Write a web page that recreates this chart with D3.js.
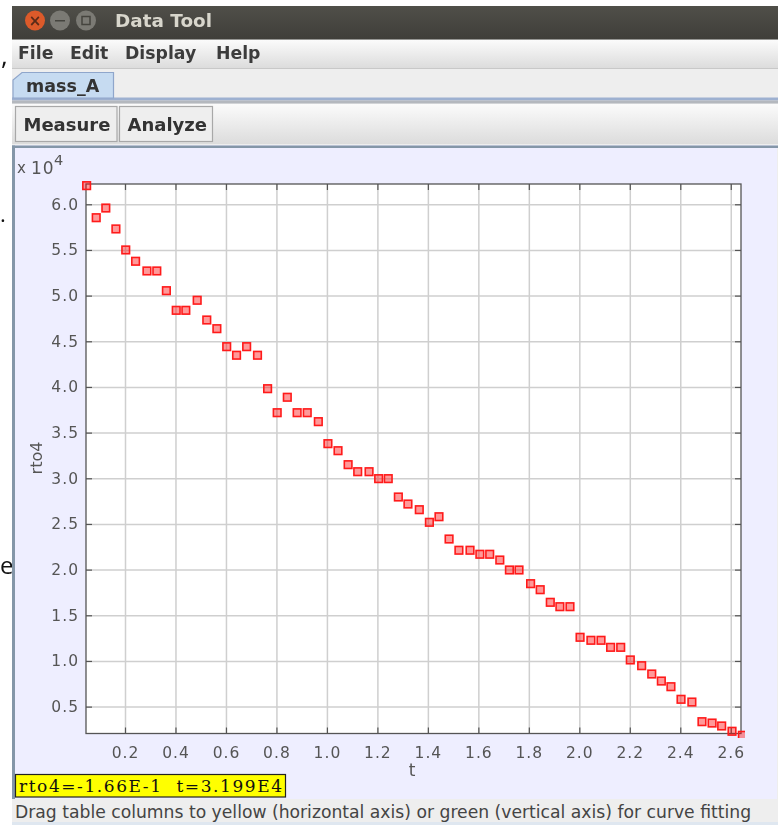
<!DOCTYPE html>
<html>
<head>
<meta charset="utf-8">
<title>Data Tool</title>
<script src="https://cdnjs.cloudflare.com/ajax/libs/d3/7.8.5/d3.min.js"></script>
<style>
html, body { margin: 0; padding: 0; background: #fff; }
svg { display: block; filter: blur(0.4px); }
text { font-family: "DejaVu Sans", sans-serif; }
</style>
</head>
<body>
<div id="chart"></div>
<script>
// values, rto4 is in units of 10^4
var tValues = [0.048, 0.086, 0.124, 0.164, 0.203, 0.242, 0.287, 0.326, 0.364, 0.403,
  0.441, 0.486, 0.524, 0.564, 0.603, 0.642, 0.682, 0.725, 0.765, 0.803,
  0.843, 0.882, 0.922, 0.966, 1.004, 1.044, 1.084, 1.122, 1.167, 1.205,
  1.243, 1.283, 1.321, 1.366, 1.406, 1.444, 1.484, 1.523, 1.567, 1.606,
  1.645, 1.685, 1.723, 1.761, 1.807, 1.845, 1.885, 1.923, 1.963, 2.003,
  2.046, 2.086, 2.124, 2.164, 2.202, 2.247, 2.287, 2.325, 2.363, 2.403,
  2.446, 2.486, 2.526, 2.564, 2.605, 2.646];
var rto4Values = [6.204, 5.853, 5.959, 5.73, 5.5, 5.376, 5.27, 5.27, 5.054, 4.839,
  4.839, 4.949, 4.733, 4.638, 4.441, 4.347, 4.441, 4.347, 3.981, 3.718,
  3.887, 3.718, 3.718, 3.62, 3.379, 3.302, 3.149, 3.072, 3.072, 2.996,
  2.996, 2.795, 2.718, 2.656, 2.518, 2.579, 2.335, 2.212, 2.212, 2.168,
  2.168, 2.105, 1.996, 1.996, 1.846, 1.78, 1.642, 1.594, 1.594, 1.259,
  1.226, 1.226, 1.149, 1.149, 1.011, 0.948, 0.857, 0.78, 0.718, 0.58,
  0.55, 0.335, 0.32, 0.288, 0.23, 0.186];
var tTicks = [0.2, 0.4, 0.6, 0.8, 1.0, 1.2, 1.4, 1.6, 1.8, 2.0, 2.2, 2.4, 2.6];
var rto4Ticks = [0.5, 1.0, 1.5, 2.0, 2.5, 3.0, 3.5, 4.0, 4.5, 5.0, 5.5, 6.0];
var tDomain = [0.0455, 2.6406];
var rto4Domain = [0.2056, 6.222];
var menuItems = ["File", "Edit", "Display", "Help"];
var toolButtons = ["Measure", "Analyze"];

var width = 784, height = 825;
var plot = {left: 86, right: 741, top: 184, bottom: 733.5};

var svg = d3.select("#chart")
    .append("svg")
    .attr("width", width)
    .attr("height", height);

var defs = svg.append("defs");

function addGradient(id, stops) {
  var g = defs.append("linearGradient")
      .attr("id", id)
      .attr("x1", 0).attr("y1", 0).attr("x2", 0).attr("y2", 1);
  stops.forEach(function(s, i) {
    g.append("stop").attr("offset", i / (stops.length - 1)).attr("stop-color", s);
  });
}
addGradient("titleGrad", ["#504f49", "#3f3e39"]);
addGradient("barGrad", ["#fbfbfb", "#dcdcdc"]);

defs.append("clipPath").attr("id", "plotClip")
    .append("rect")
    .attr("x", plot.left - 8)
    .attr("y", plot.top - 8)
    .attr("width", plot.right - plot.left + 12)
    .attr("height", plot.bottom - plot.top + 12.5);

// bits of the slide behind the window
svg.append("text").text(",").attr("x", 1).attr("y", 65)
    .attr("font-size", "26px").attr("fill", "#111")
    .style("font-family", "'Open Sans', sans-serif");
svg.append("text").text(".").attr("x", 0).attr("y", 222)
    .attr("font-size", "22px").attr("fill", "#111")
    .style("font-family", "'Open Sans', sans-serif");
svg.append("text").text("e").attr("x", 0).attr("y", 574)
    .attr("font-size", "24px").attr("fill", "#111")
    .style("font-family", "'Open Sans', sans-serif");

// window frame
svg.append("rect").attr("x", 12).attr("y", 6).attr("width", 766).attr("height", 819).attr("fill", "#eeeeee");
svg.append("rect").attr("x", 12).attr("y", 6).attr("width", 766).attr("height", 33.5).attr("fill", "url(#titleGrad)");

// title bar buttons
svg.append("circle").attr("cx", 35).attr("cy", 20.5).attr("r", 10).attr("fill", "#dc5a2a");
svg.append("text").text("×").attr("x", 35).attr("y", 25.5).attr("text-anchor", "middle")
    .attr("font-size", "15px").attr("font-weight", "bold").attr("fill", "#5a2a18");
svg.append("circle").attr("cx", 60).attr("cy", 20.5).attr("r", 10).attr("fill", "#7b7a74");
svg.append("rect").attr("x", 55).attr("y", 20).attr("width", 10).attr("height", 1.5).attr("fill", "#45443e");
svg.append("circle").attr("cx", 86).attr("cy", 20.5).attr("r", 10).attr("fill", "#7b7a74");
svg.append("rect").attr("x", 82).attr("y", 16.5).attr("width", 8).attr("height", 8)
    .attr("fill", "none").attr("stroke", "#45443e").attr("stroke-width", 1.5);
svg.append("text").text("Data Tool").attr("x", 115).attr("y", 27)
    .attr("font-size", "18.4px").attr("font-weight", "bold").attr("fill", "#d8d6cc");

// menu bar
svg.append("rect").attr("x", 12).attr("y", 40).attr("width", 766).attr("height", 28).attr("fill", "url(#barGrad)");
svg.append("rect").attr("x", 12).attr("y", 68).attr("width", 766).attr("height", 1).attr("fill", "#c8c8c8");
var menuX = [18, 70, 125, 216];
svg.selectAll("text.menu").data(menuItems).enter().append("text")
    .attr("class", "menu")
    .text(function(d) { return d; })
    .attr("x", function(d, i) { return menuX[i]; })
    .attr("y", 59)
    .attr("font-size", "17.3px")
    .attr("font-weight", "bold")
    .attr("fill", "#3c3c3c");

// tab strip
svg.append("rect").attr("x", 12).attr("y", 97.5).attr("width", 766).attr("height", 3).attr("fill", "#9db0d0");
svg.append("rect").attr("x", 12).attr("y", 100.5).attr("width", 766).attr("height", 3).attr("fill", "#b4b8be");
svg.append("path")
    .attr("d", "M13,98 L13,80 L22,72.5 L113.5,72.5 L113.5,98 Z")
    .attr("fill", "#c6dbf1").attr("stroke", "#8fa6cb").attr("stroke-width", 1.2);
svg.append("text").text("mass_A").attr("x", 26).attr("y", 91.5)
    .attr("font-size", "17.5px").attr("font-weight", "bold").attr("fill", "#333");

// tool bar
svg.append("rect").attr("x", 12).attr("y", 104).attr("width", 766).attr("height", 40).attr("fill", "url(#barGrad)");
var btnX = [15.5, 119.5], btnW = [101.5, 93];
svg.selectAll("rect.btn").data(toolButtons).enter().append("rect")
    .attr("class", "btn")
    .attr("x", function(d, i) { return btnX[i]; })
    .attr("y", 106.5)
    .attr("width", function(d, i) { return btnW[i]; })
    .attr("height", 35)
    .attr("fill", "#eeeeee")
    .attr("stroke", "#a8a8a8")
    .attr("stroke-width", 1.2);
svg.selectAll("text.btn").data(toolButtons).enter().append("text")
    .attr("class", "btn")
    .text(function(d) { return d; })
    .attr("x", function(d, i) { return btnX[i] + 8; })
    .attr("y", 130.5)
    .attr("font-size", "18px")
    .attr("font-weight", "bold")
    .attr("fill", "#333");

// plot panel
svg.append("rect").attr("x", 12).attr("y", 145).attr("width", 765).attr("height", 654).attr("fill", "#eeeeff");
svg.append("rect").attr("x", 12).attr("y", 145.5).attr("width", 766).attr("height", 2.5).attr("fill", "#8496a8");
svg.append("rect").attr("x", 12).attr("y", 145.5).attr("width", 3).attr("height", 653.5).attr("fill", "#8496a8");
svg.append("rect")
    .attr("x", plot.left).attr("y", plot.top)
    .attr("width", plot.right - plot.left).attr("height", plot.bottom - plot.top)
    .attr("fill", "#ffffff");

var x = d3.scaleLinear().domain(tDomain).range([plot.left, plot.right]);
var y = d3.scaleLinear().domain(rto4Domain).range([plot.bottom, plot.top]);

// grid lines
var grid = svg.append("g");
grid.append("g")
    .attr("transform", "translate(0," + plot.bottom + ")")
    .call(d3.axisBottom(x).tickValues(tTicks).tickSize(plot.top - plot.bottom).tickFormat(""))
    .call(function(g) { g.select(".domain").remove(); })
    .selectAll("line").attr("stroke", "#cfcfcf").attr("stroke-width", 1.5);
grid.append("g")
    .attr("transform", "translate(" + plot.left + ",0)")
    .call(d3.axisLeft(y).tickValues(rto4Ticks).tickSize(plot.left - plot.right).tickFormat(""))
    .call(function(g) { g.select(".domain").remove(); })
    .selectAll("line").attr("stroke", "#cfcfcf").attr("stroke-width", 1.5);

// short dark ticks on all four sides
function darkTicks(g) {
  g.select(".domain").remove();
  g.selectAll("line").attr("stroke", "#555").attr("stroke-width", 1.2);
}
svg.append("g").attr("transform", "translate(0," + plot.bottom + ")")
    .call(d3.axisBottom(x).tickValues(tTicks).tickSize(-6).tickFormat("")).call(darkTicks);
svg.append("g").attr("transform", "translate(0," + plot.top + ")")
    .call(d3.axisTop(x).tickValues(tTicks).tickSize(-6).tickFormat("")).call(darkTicks);
svg.append("g").attr("transform", "translate(" + plot.left + ",0)")
    .call(d3.axisLeft(y).tickValues(rto4Ticks).tickSize(-6).tickFormat("")).call(darkTicks);
svg.append("g").attr("transform", "translate(" + plot.right + ",0)")
    .call(d3.axisRight(y).tickValues(rto4Ticks).tickSize(-6).tickFormat("")).call(darkTicks);

svg.append("rect")
    .attr("x", plot.left).attr("y", plot.top)
    .attr("width", plot.right - plot.left).attr("height", plot.bottom - plot.top)
    .attr("fill", "none").attr("stroke", "#555").attr("stroke-width", 1.3);

// tick labels
var xLabels = svg.append("g")
    .attr("transform", "translate(0," + plot.bottom + ")")
    .call(d3.axisBottom(x).tickValues(tTicks).tickSize(0).tickPadding(13).tickFormat(d3.format(".1f")));
xLabels.select(".domain").remove();
xLabels.selectAll("text")
    .style("font-family", "'DejaVu Sans', sans-serif")
    .style("font-size", "15.5px")
    .style("letter-spacing", "1px")
    .attr("fill", "#555");

var yLabels = svg.append("g")
    .attr("transform", "translate(" + plot.left + ",0)")
    .call(d3.axisLeft(y).tickValues(rto4Ticks).tickSize(0).tickPadding(7).tickFormat(d3.format(".1f")));
yLabels.select(".domain").remove();
yLabels.selectAll("text")
    .style("font-family", "'DejaVu Sans', sans-serif")
    .style("font-size", "15.5px")
    .style("letter-spacing", "1px")
    .attr("fill", "#555");

// axis titles
svg.append("text").text("t").attr("x", 412).attr("y", 776)
    .attr("text-anchor", "middle").attr("font-size", "17px").attr("fill", "#555");
svg.append("text").text("rto4")
    .attr("transform", "translate(42,458) rotate(-90)")
    .attr("text-anchor", "middle").attr("font-size", "16px").attr("fill", "#555");

// x 10^4 multiplier
svg.append("text").text("x").attr("x", 17).attr("y", 173).attr("font-size", "15px").attr("fill", "#555");
svg.append("text").text("10").attr("x", 31).attr("y", 173.5)
    .attr("font-size", "17px").attr("letter-spacing", "1px").attr("fill", "#555");
svg.append("text").text("4").attr("x", 54).attr("y", 165).attr("font-size", "14.5px").attr("fill", "#555");

// data points
var points = d3.zip(tValues, rto4Values);
svg.append("g")
    .attr("clip-path", "url(#plotClip)")
    .selectAll("rect")
    .data(points)
    .enter().append("rect")
    .attr("x", function(d) { return x(d[0]) - 3.8; })
    .attr("y", function(d) { return y(d[1]) - 3.8; })
    .attr("width", 7.6)
    .attr("height", 7.6)
    .attr("fill", "#ff0000")
    .attr("fill-opacity", 0.4)
    .attr("stroke", "#ff1a1a")
    .attr("stroke-width", 1.6);

// yellow readout box
svg.append("rect").attr("x", 15.5).attr("y", 774.5).attr("width", 270).attr("height", 22.5)
    .attr("fill", "#ffff00").attr("stroke", "#222").attr("stroke-width", 1.2);
svg.append("text").text("rto4=-1.66E-1  t=3.199E4")
    .attr("x", 19).attr("y", 792)
    .attr("xml:space", "preserve")
    .attr("textLength", 263)
    .attr("font-size", "17px")
    .attr("fill", "#111")
    .style("font-family", "'DejaVu Serif', serif")
    .style("white-space", "pre");

// status bar
svg.append("rect").attr("x", 12).attr("y", 800).attr("width", 766).attr("height", 22).attr("fill", "#eeeeee");
svg.append("rect").attr("x", 12).attr("y", 822).attr("width", 766).attr("height", 3).attr("fill", "#dfe7f0");
svg.append("text").text("Drag table columns to yellow (horizontal axis) or green (vertical axis) for curve fitting")
    .attr("x", 15).attr("y", 818)
    .attr("font-size", "17.2px")
    .attr("fill", "#444");
</script>
</body>
</html>
